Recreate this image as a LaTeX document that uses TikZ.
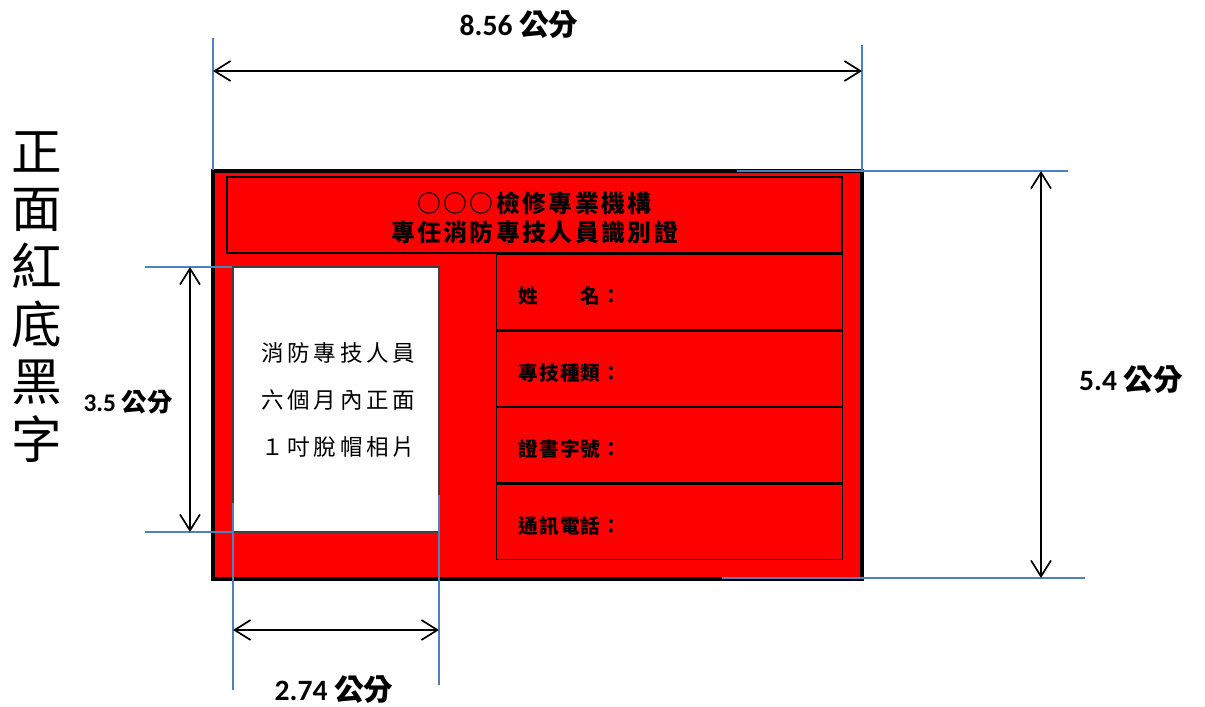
\documentclass[tikz,border=0pt]{standalone}
\usepackage{fontspec}
\setmainfont{Carlito}
\newfontfamily\cjk{Noto Sans CJK TC}
\newfontfamily\cjktitle[LetterSpace=10]{Noto Sans CJK TC}
\newfontfamily\cjkphoto[LetterSpace=17]{Noto Sans CJK TC}
\newfontfamily\cjkfield[LetterSpace=5]{Noto Sans CJK TC}
\usetikzlibrary{arrows.meta, positioning, fit}
\definecolor{cardred}{HTML}{FF0000}
\definecolor{guideblue}{HTML}{4F81BD}

\begin{document}
\begin{tikzpicture}[
    x=0.025cm, y=-0.025cm,
    cardbox/.style={
        draw,
        line width=3pt,
        fill=cardred,
        inner sep=0pt
    },
    titlebox/.style={
        draw,
        line width=0.9pt,
        inner sep=0pt
    },
    photobox/.style={
        draw=black!75,
        line width=0.9pt,
        fill=white,
        inner sep=0pt
    },
    rowbox/.style={
        draw,
        line width=0.9pt,
        minimum width=8.65cm,
        minimum height=1.88cm,
        inner sep=0pt
    },
    fieldtext/.style={
        font=\cjkfield\bfseries\fontsize{14}{16}\selectfont,
        anchor=west
    },
    dimlabel/.style={
        font=\bfseries\fontsize{21}{25}\selectfont
    },
    extline/.style={
        draw=guideblue,
        line width=1pt
    },
    dimarrow/.style={
        draw,
        line width=1.2pt,
        {Straight Barb[length=4mm, width=5mm]}-{Straight Barb[length=4mm, width=5mm]}
    }
]
\useasboundingbox (0,0) rectangle (1205,706);

% Side caption
\node[font=\cjk\fontsize{36}{41}\selectfont, align=center] (side) at (37,297) {正\\面\\紅\\底\\黑\\字};

% Card
\node[cardbox, fit={(213,171) (862,579)}] (card) {};
\node[titlebox, fit={(227,177) (842,253)}] (title) {};
\node[font=\cjktitle\bfseries\fontsize{17}{20.6}\selectfont, align=center] (titletext) at ([yshift=-0.06cm]title.center) {○○○檢修專業機構\\專任消防專技人員識別證};

% Photo
\node[photobox, fit={(233,267) (439,532)}] (photo) {};
\node[font=\cjkphoto\fontsize{16}{33.4}\selectfont, align=center] (phototext) at ([xshift=0.06cm]photo.center) {消防專技人員\\六個月內正面\\１吋脫帽相片};

% Fields
\node[rowbox, anchor=north west] (f1) at (496,254) {};
\node[rowbox, below=0pt of f1] (f2) {};
\node[rowbox, below=0pt of f2] (f3) {};
\node[rowbox, below=0pt of f3] (f4) {};
\foreach \i/\txt in {1/姓　　名：, 2/專技種類：, 3/證書字號：, 4/通訊電話：}
    \node[fieldtext] (l\i) at ([xshift=0.45cm, yshift=-0.1cm]f\i.west) {\txt};

% Extension lines
\coordinate (wa) at (213,38);   \coordinate (wb) at (213,170);
\coordinate (wc) at (862,45);   \coordinate (wd) at (862,171);
\coordinate (ha) at (737,171);  \coordinate (hb) at (1068,171);
\coordinate (hc) at (722,578);  \coordinate (hd) at (1085,578);
\coordinate (pa) at (145,267);  \coordinate (pb) at (232,267);
\coordinate (pc) at (145,532);  \coordinate (pd) at (232,532);
\coordinate (qa) at (233,503);  \coordinate (qb) at (233,690);
\coordinate (qc) at (439,495);  \coordinate (qd) at (439,685);
\draw[extline] (wa) -- (wb);
\draw[extline] (wc) -- (wd);
\draw[extline] (ha) -- (hb);
\draw[extline] (hc) -- (hd);
\draw[extline] (pa) -- (pb);
\draw[extline] (pc) -- (pd);
\draw[extline] (qa) -- (qb);
\draw[extline] (qc) -- (qd);

% Dimensions
\coordinate (w1) at (213,71);   \coordinate (w2) at (862,71);
\coordinate (h1) at (1041,171); \coordinate (h2) at (1041,578);
\coordinate (p1) at (190,267);  \coordinate (p2) at (190,532);
\coordinate (q1) at (233,630);  \coordinate (q2) at (439,630);
\draw[dimarrow] (w1) -- (w2);
\draw[dimarrow] (h1) -- (h2);
\draw[dimarrow] (p1) -- (p2);
\draw[dimarrow] (q1) -- (q2);

\node[dimlabel] (wlabel) at (519,25) {8.56 {\cjk 公分}};
\node[dimlabel] (hlabel) at (1131,380) {5.4 {\cjk 公分}};
\node[dimlabel, font=\bfseries\fontsize{18}{22}\selectfont] (plabel) at (128,402) {3.5 {\cjk 公分}};
\node[dimlabel] (qlabel) at (334,690) {2.74 {\cjk 公分}};

\end{tikzpicture}
\end{document}
